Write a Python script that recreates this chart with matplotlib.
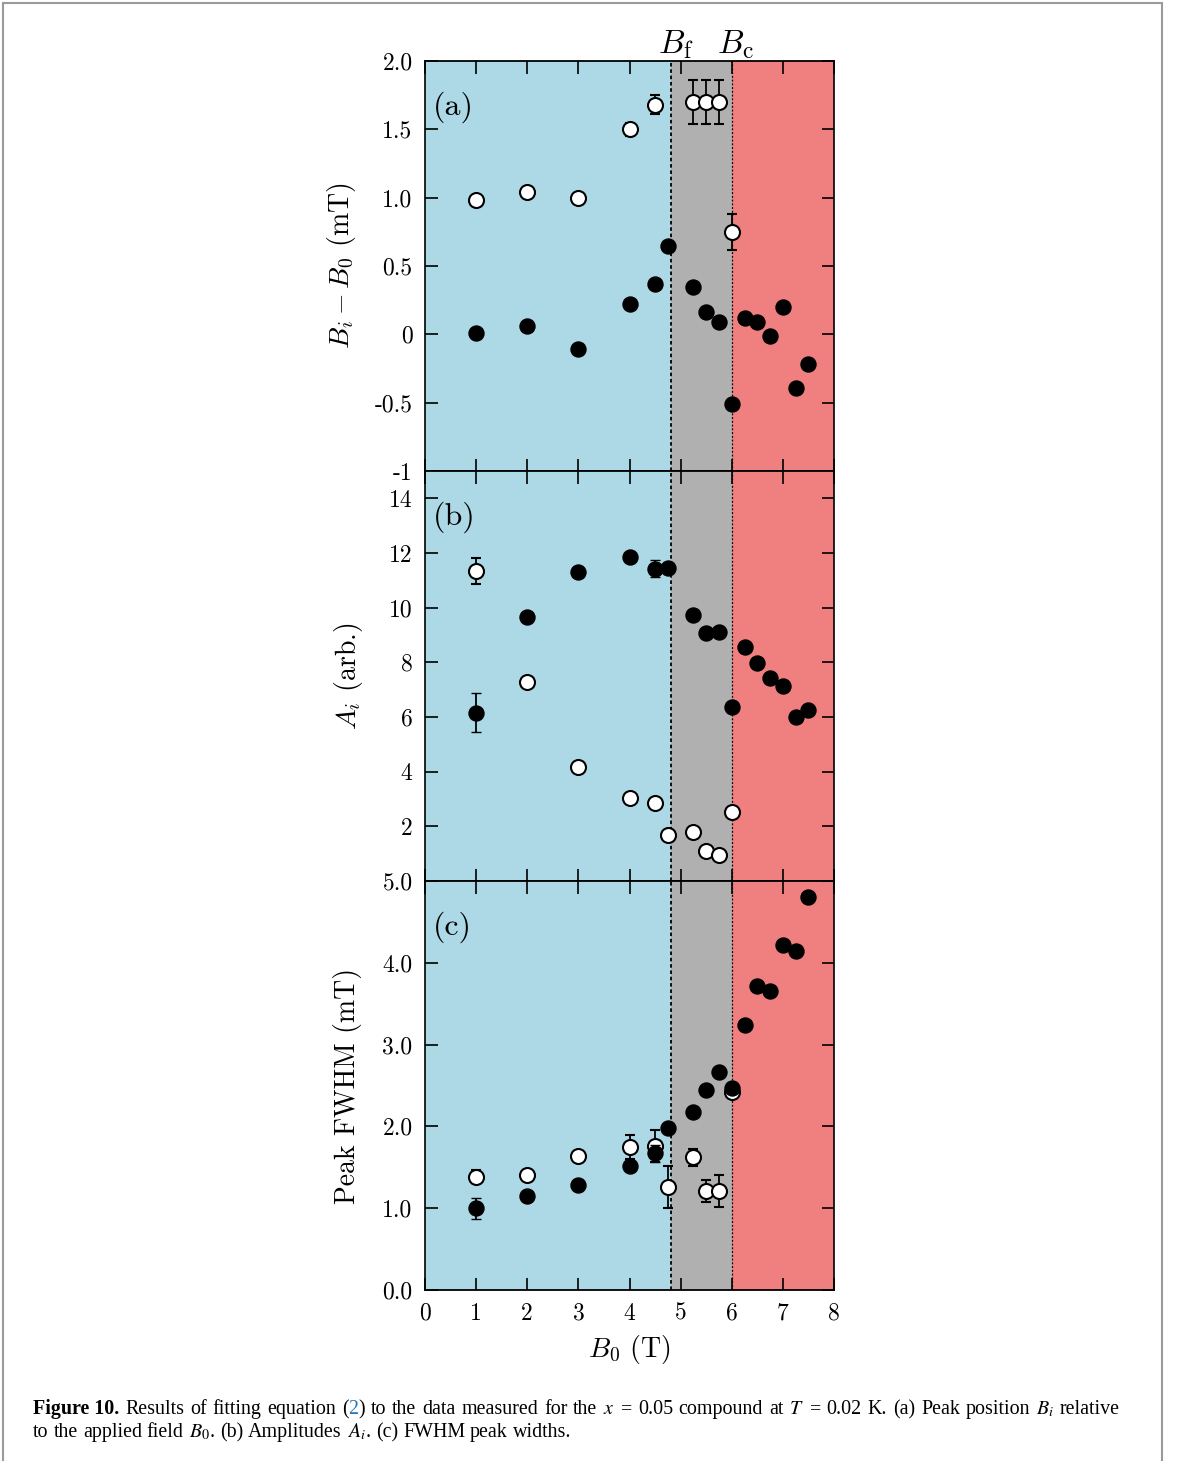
import matplotlib
matplotlib.use('Agg')
import matplotlib.pyplot as plt
from matplotlib.patches import Rectangle

plt.rcParams['font.family'] = 'serif'
plt.rcParams['font.serif'] = ['cmr10']
plt.rcParams['mathtext.fontset'] = 'cm'
plt.rcParams['axes.unicode_minus'] = False
plt.rcParams['axes.formatter.use_mathtext'] = True

# ---------------- data ----------------
B_f = 4.81
B_c = 6.0

b0_filled = [1, 2, 3, 4, 4.5, 4.75, 5.25, 5.5, 5.75, 6, 6.25, 6.5, 6.75, 7, 7.25, 7.5]
b0_open_a = [1, 2, 3, 4, 4.5, 5.25, 5.5, 5.75, 6]
b0_open = [1, 2, 3, 4, 4.5, 4.75, 5.25, 5.5, 5.75, 6]

# (a) peak position B_i - B_0 (mT)
pos_open = [0.98, 1.04, 1.00, 1.50, 1.68, 1.70, 1.70, 1.70, 0.75]
pos_open_err = [0.02, 0.02, 0.02, 0.05, 0.07, 0.16, 0.16, 0.16, 0.13]
pos_filled = [0.01, 0.06, -0.11, 0.22, 0.37, 0.65, 0.35, 0.16, 0.09, -0.51,
              0.12, 0.09, -0.01, 0.20, -0.39, -0.22]
pos_filled_err = [0.04, 0.02, 0.02, 0.02, 0.02, 0.02, 0.02, 0.02, 0.02, 0.02,
                  0.02, 0.02, 0.02, 0.02, 0.02, 0.02]

# (b) amplitudes A_i (arb.)
amp_open = [11.34, 7.28, 4.18, 3.05, 2.84, 1.68, 1.80, 1.11, 0.96, 2.51]
amp_open_err = [0.48, 0.1, 0.1, 0.1, 0.1, 0.1, 0.1, 0.1, 0.1, 0.1]
amp_filled = [6.16, 9.66, 11.31, 11.86, 11.43, 11.44, 9.72, 9.06, 9.11, 6.35,
              8.55, 7.96, 7.44, 7.12, 6.00, 6.26]
amp_filled_err = [0.70, 0.1, 0.1, 0.15, 0.3, 0.1, 0.1, 0.1, 0.1, 0.1,
                  0.1, 0.1, 0.1, 0.1, 0.1, 0.1]

# (c) FWHM (mT)
fwhm_open = [1.385, 1.41, 1.64, 1.75, 1.76, 1.26, 1.62, 1.21, 1.21, 2.42]
fwhm_open_err = [0.08, 0.03, 0.06, 0.15, 0.2, 0.26, 0.1, 0.14, 0.2, 0.03]
fwhm_filled = [1.00, 1.15, 1.28, 1.51, 1.67, 1.98, 2.18, 2.45, 2.67, 2.47,
               3.24, 3.72, 3.66, 4.22, 4.15, 4.80]
fwhm_filled_err = [0.13, 0.02, 0.02, 0.05, 0.1, 0.02, 0.02, 0.02, 0.02, 0.02,
                   0.02, 0.02, 0.02, 0.02, 0.02, 0.04]

x_ticks = [0, 1, 2, 3, 4, 5, 6, 7, 8]
a_ticks = [2.0, 1.5, 1.0, 0.5, 0, -0.5, -1]
a_labels = ['2.0', '1.5', '1.0', '0.5', '0', '-0.5', '-1']
b_ticks = [14, 12, 10, 8, 6, 4, 2, 0]
b_labels = ['14', '12', '10', '8', '6', '4', '2', '']
c_ticks = [5, 4, 3, 2, 1, 0]
c_labels = ['5.0', '4.0', '3.0', '2.0', '1.0', '0.0']

# ---------------- figure ----------------
W, H = 1179, 1461
fig = plt.figure(figsize=(W / 100, H / 100), dpi=100)

left = 425 / W
width = (834 - 425) / W
def yfrac(px):
    return 1 - px / H

panels = [(61, 471), (471, 881), (881, 1290)]
axes = []
for top, bot in panels:
    ax = fig.add_axes([left, yfrac(bot), width, (bot - top) / H])
    axes.append(ax)

TICK_FS = 17
LBL_FS = 20

def style(ax, yt, yl, ylim, ylabel, labx, tag):
    ax.set_xlim(0, 8)
    ax.set_ylim(*ylim)
    ax.axvspan(0, B_f, color='#ADD8E6', zorder=0, lw=0)
    ax.axvspan(B_f, B_c, color='#B0B0B0', zorder=0, lw=0)
    ax.axvspan(B_c, 8, color='#F08080', zorder=0, lw=0)
    ax.axvline(B_f, color='black', lw=1.3, ls=(0, (2, 1.5)), zorder=1)
    ax.axvline(B_c, color='black', lw=0.9, ls=(0, (1.5, 1.5)), zorder=1)
    ax.set_xticks(x_ticks)
    ax.set_yticks(yt)
    ax.set_yticklabels(yl)
    ax.tick_params(direction='in', top=True, right=True, length=9, width=1.2,
                   labelsize=TICK_FS, pad=9)
    for s in ['top', 'bottom']:
        ax.spines[s].set_linewidth(1.3)
    for s in ['left', 'right']:
        ax.spines[s].set_linewidth(1.2)
        ax.spines[s].set_linestyle((0, (2, 1)))
    ax.set_ylabel(ylabel, fontsize=LBL_FS)
    ax.yaxis.set_label_coords(labx, 0.5)
    ax.text(0.02, 0.888, tag, transform=ax.transAxes, fontsize=23,
            ha='left', va='center')

ms = 10.8
ekw = dict(ecolor='black', elinewidth=1.3, capsize=3.4, capthick=1.3, ls='none')

def plot_pair(ax, xo, yo, eo, xf, yf, ef):
    ax.errorbar(xo, yo, yerr=eo, marker='o', ms=ms, mfc='white', mec='black',
                mew=1.5, zorder=3, **ekw)
    ax.errorbar(xf, yf, yerr=ef, marker='o', ms=ms, mfc='black', mec='black',
                mew=1.0, zorder=4, **ekw)

ax_a, ax_b, ax_c = axes
style(ax_a, a_ticks, a_labels, (-1, 2), r'$B_i - B_0$ (mT)', -0.163, '(a)')
style(ax_b, b_ticks, b_labels, (0, 15), r'$A_i$ (arb.)', -0.147, '(b)')
style(ax_c, c_ticks, c_labels, (0, 5), 'Peak FWHM (mT)', -0.155, '(c)')

plot_pair(ax_a, b0_open_a, pos_open, pos_open_err, b0_filled, pos_filled, pos_filled_err)
plot_pair(ax_b, b0_open, amp_open, amp_open_err, b0_filled, amp_filled, amp_filled_err)
plot_pair(ax_c, b0_open, fwhm_open, fwhm_open_err, b0_filled, fwhm_filled, fwhm_filled_err)

for ax in (ax_a, ax_b):
    ax.tick_params(labelbottom=False)
ax_c.set_xticklabels([str(v) for v in x_ticks])
ax_c.set_xlabel(r'$B_0$ (T)', fontsize=LBL_FS, labelpad=6)

ax_a.text(B_f + 0.1, 2.0, r'$B_\mathrm{f}$', fontsize=24, ha='center', va='bottom')
ax_a.text(B_c + 0.08, 2.0, r'$B_\mathrm{c}$', fontsize=24, ha='center', va='bottom')

# outer frame
fig.patches.append(Rectangle((3 / W, -0.01), (1162 - 3) / W, 1.01 - 3 / H,
                             transform=fig.transFigure, fill=False,
                             edgecolor='#9a9a9a', lw=1.5, zorder=0))

# ---------------- caption ----------------
CAP_FS = 14.4
base = dict(fontfamily='Liberation Serif', fontsize=CAP_FS, math_fontfamily='stix',
            color='black', va='baseline', ha='left')
styles = {
    'n': {},
    'b': dict(fontweight='bold'),
    'blue': dict(color='#2a7ab9'),
    'm': {},
}

def W_(s):
    return [(s, 'n')]

line1 = [[('Figure 10.', 'b')], W_('Results'), W_('of'), W_('fitting'), W_('equation'),
         [('(', 'n'), ('2', 'blue'), (')', 'n')], W_('to'), W_('the'), W_('data'),
         W_('measured'), W_('for'), W_('the'), [('$x$', 'm')], W_('='), W_('0.05'),
         W_('compound'), W_('at'), [('$T$', 'm')], W_('='), W_('0.02'), W_('K.'),
         W_('(a)'), W_('Peak'), W_('position'), [('$B_i$', 'm')], W_('relative')]
line2 = [W_('to'), W_('the'), W_('applied'), W_('field'), [('$B_0$', 'm'), ('.', 'n')],
         W_('(b)'), W_('Amplitudes'), [('$A_i$', 'm'), ('.', 'n')], W_('(c)'),
         W_('FWHM'), W_('peak'), W_('widths.')]

renderer = fig.canvas.get_renderer()

def measure(s, st):
    t = fig.text(0, 0, s, **{**base, **styles[st]})
    w = t.get_window_extent(renderer).width
    t.remove()
    return w

space_w = measure('a a', 'n') - measure('aa', 'n')

def draw_line(words, x0, ybase, target=None):
    widths = [[measure(s, st) for s, st in word] for word in words]
    total = sum(sum(w) for w in widths)
    n_gaps = len(words) - 1
    gap = space_w
    if target is not None:
        gap = max((target - total) / n_gaps, space_w * 0.6)
    x = x0
    for word, ws in zip(words, widths):
        for (s, st), w in zip(word, ws):
            fig.text(x / W, 1 - ybase / H, s, **{**base, **styles[st]})
            x += w
        x += gap

draw_line(line1, 33, 1414, target=1120 - 33)
draw_line(line2, 33, 1437)

fig.savefig('out.png', dpi=100)
